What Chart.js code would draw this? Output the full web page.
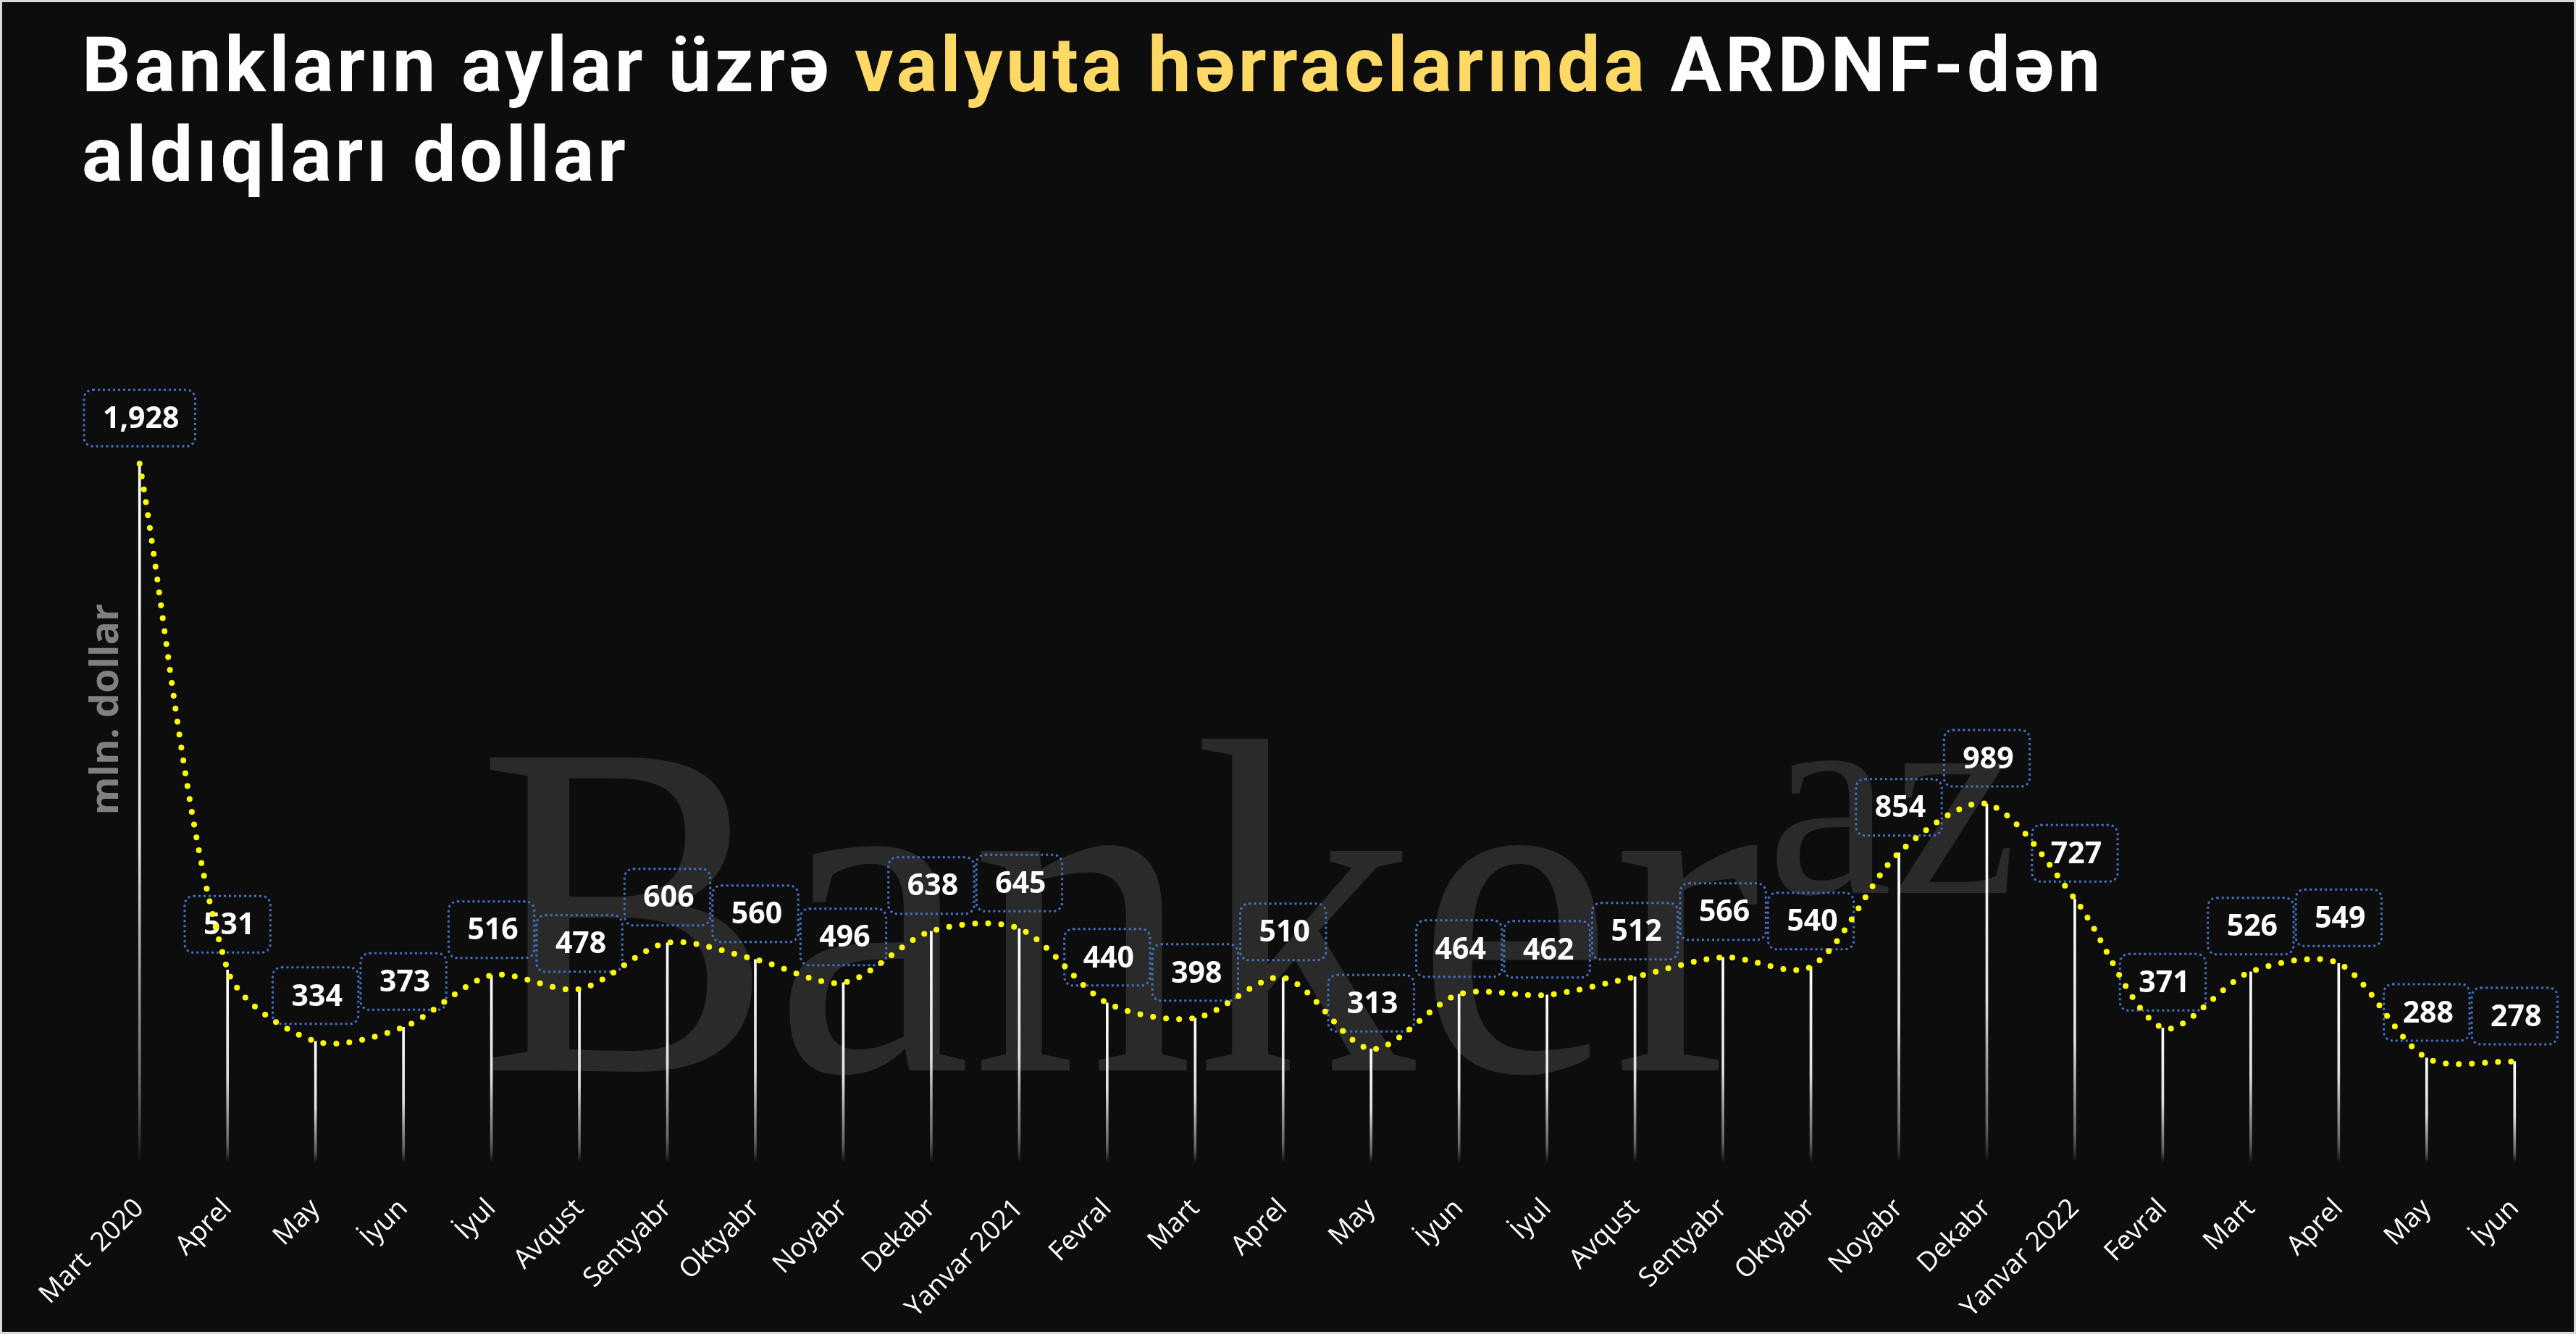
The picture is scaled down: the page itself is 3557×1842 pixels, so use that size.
<!DOCTYPE html>
<html>
<head>
<meta charset="utf-8">
<script src="https://cdn.jsdelivr.net/npm/chart.js@4.4.0/dist/chart.umd.min.js"></script>
<style>
    html, body { margin: 0; padding: 0; }
    body { width: 3557px; height: 1842px; background: #d9d9d9; position: relative; overflow: hidden; }
    #wrap { position: absolute; left: 3px; top: 3px; width: 3551px; height: 1836px; background: #0d0d0d; }
    #title {
        position: absolute; left: 110px; top: 25px; z-index: 2;
        font-family: Roboto, sans-serif; font-weight: 700; font-size: 106px;
        line-height: 124px; letter-spacing: 4.5px; color: #ffffff;
    }
    #title .hl { color: #ffd966; }
    #chartBox { position: absolute; left: 0; top: 0; width: 3551px; height: 1836px; }
</style>
</head>
<body>
<div id="wrap">
    <div id="title">Bankların aylar üzrə <span class="hl">valyuta hərraclarında</span> ARDNF-dən<br>aldıqları dollar</div>
    <div id="chartBox"><canvas id="hChart"></canvas></div>
</div>
<script>
// aylar (x oxu)
const months = [
    'Mart  2020', 'Aprel', 'May', 'İyun', 'İyul', 'Avqust', 'Sentyabr', 'Oktyabr', 'Noyabr', 'Dekabr',
    'Yanvar 2021', 'Fevral', 'Mart', 'Aprel', 'May', 'İyun', 'İyul', 'Avqust', 'Sentyabr', 'Oktyabr',
    'Noyabr', 'Dekabr', 'Yanvar 2022', 'Fevral', 'Mart', 'Aprel', 'May', 'İyun'
];

// mln. dollar
const purchases = [
    1928, 531, 334, 373, 516, 478, 606, 560, 496, 638,
    645, 440, 398, 510, 313, 464, 462, 512, 566, 540,
    854, 989, 727, 371, 526, 549, 288, 278
];

const yAxisTitle = 'mln. dollar';
const watermark = 'Banker';
const watermarkSup = 'az';

function dropLineColor(c) {
    const chart = c.chart;
    if (!chart.chartArea || c.type !== 'data') return '#ffffff';
    const y = chart.scales.y;
    const top = y.getPixelForValue(c.raw);
    const bottom = y.getPixelForValue(0);
    const g = chart.ctx.createLinearGradient(0, top, 0, bottom);
    g.addColorStop(0, 'rgba(255,255,255,1)');
    g.addColorStop(0.55, 'rgba(235,235,235,0.95)');
    g.addColorStop(0.85, 'rgba(160,160,160,0.7)');
    g.addColorStop(1, 'rgba(255,255,255,0)');
    return g;
}

// su nişanı, y oxu başlığı və qiymət qutuları
const decorPlugin = {
    id: 'decor',
    beforeDatasetsDraw(chart) {
        const { ctx, chartArea } = chart;
        const w = chartArea.right - chartArea.left;

        // watermark
        ctx.save();
        ctx.fillStyle = 'rgba(255,255,255,0.12)';
        ctx.textBaseline = 'alphabetic';
        const wx = chartArea.left + w * 0.155;
        const wy = chartArea.bottom - 127;
        ctx.save();
        ctx.translate(wx, wy);
        ctx.scale(0.93, 1);
        ctx.font = '660px "Liberation Serif", serif';
        ctx.fillText(watermark, 0, 0);
        const bw = ctx.measureText(watermark).width * 0.93;
        ctx.restore();
        ctx.font = '390px "Liberation Serif", serif';
        ctx.fillText(watermarkSup, wx + bw + 8, wy - 245);
        ctx.restore();

        // y title
        ctx.save();
        ctx.translate(chartArea.left + 16, (chartArea.top + chartArea.bottom) / 2);
        ctx.rotate(-Math.PI / 2);
        ctx.font = 'bold 54px "Open Sans", sans-serif';
        ctx.fillStyle = '#808080';
        ctx.textAlign = 'center';
        ctx.textBaseline = 'middle';
        ctx.fillText(yAxisTitle, 0, 0);
        ctx.restore();

        // value boxes
        const meta = chart.getDatasetMeta(1);
        ctx.save();
        ctx.font = 'bold 41px "Noto Sans", sans-serif';
        meta.data.forEach((pt, i) => {
            const txt = purchases[i].toLocaleString('en-US');
            const tw = ctx.measureText(txt).width;
            const bwid = tw + 48, bh = 78;
            const cx = pt.x, cy = pt.y - 63;
            ctx.beginPath();
            ctx.roundRect(cx - bwid / 2, cy - bh / 2, bwid, bh, 12);
            ctx.setLineDash([3, 4]);
            ctx.lineWidth = 3;
            ctx.strokeStyle = '#4472c4';
            ctx.stroke();
            ctx.setLineDash([]);
            ctx.fillStyle = '#ffffff';
            ctx.textAlign = 'center';
            ctx.textBaseline = 'middle';
            ctx.fillText(txt, cx + 2, cy + 2);
        });
        ctx.restore();
    }
};

const ctx = document.getElementById('hChart').getContext('2d');

new Chart(ctx, {
    type: 'bar',
    data: {
        labels: months,
        datasets: [{
            type: 'bar',
            label: 'xətt',
            data: purchases,
            backgroundColor: dropLineColor,
            borderWidth: 0,
            barThickness: 3,
            order: 1
        }, {
            type: 'line',
            label: 'Alınan dollar',
            data: purchases,
            borderColor: '#ffff00',
            borderWidth: 8,
            borderDash: [0, 18],
            borderCapStyle: 'round',
            tension: 0.3,
            pointRadius: 0,
            fill: false,
            clip: false,
            order: 0
        }]
    },
    options: {
        responsive: true,
        maintainAspectRatio: false,
        animation: false,
        layout: { padding: { left: 129, right: 21, top: 351, bottom: 0 } },
        plugins: {
            legend: { display: false },
            tooltip: { enabled: false }
        },
        scales: {
            x: {
                grid: { display: false, drawTicks: false },
                border: { display: false },
                ticks: {
                    color: '#ffffff',
                    font: { family: 'Open Sans', size: 37 },
                    minRotation: 45,
                    maxRotation: 45,
                    autoSkip: false,
                    padding: 42
                },
                afterFit(s) { s.height = 234; }
            },
            y: {
                display: false,
                min: 0,
                max: 2500
            }
        }
    },
    plugins: [decorPlugin]
});
</script>
</body>
</html>
